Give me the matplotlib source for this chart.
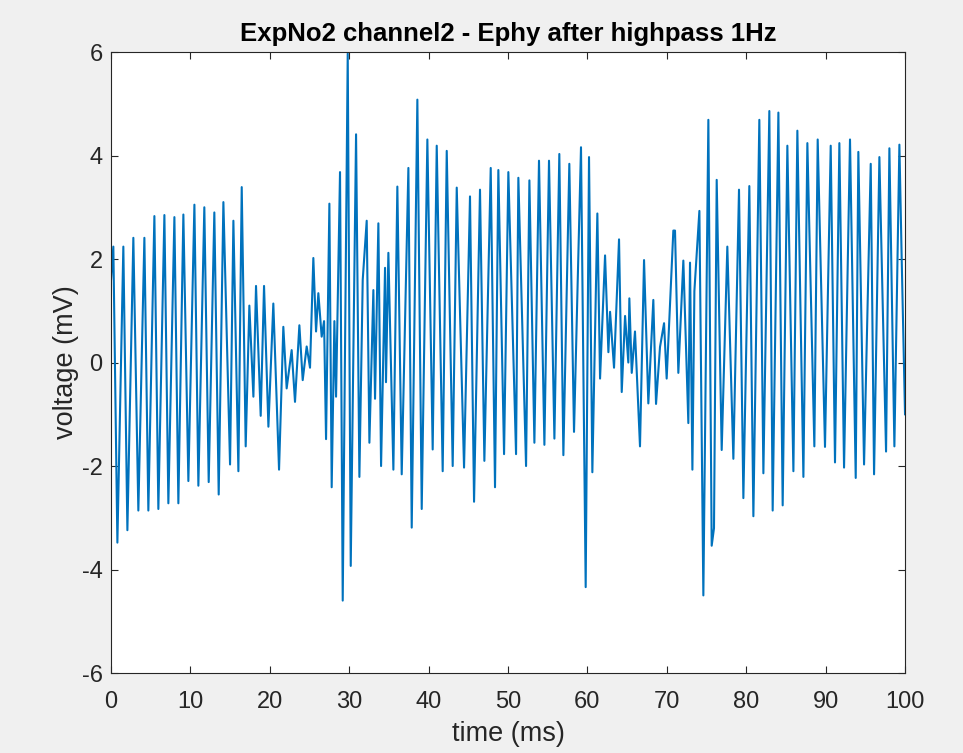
import numpy as np
import matplotlib
matplotlib.use('Agg')
from matplotlib import pyplot as plt

## Signal extremes (time in ms, voltage in mV)
t_ms = [
    0.00, 0.29, 0.80, 1.55, 2.06, 2.81, 3.44, 4.20, 4.70, 5.46,
    5.96, 6.72, 7.22, 7.98, 8.48, 9.11, 9.74, 10.50, 11.00, 11.75,
    12.30, 13.01, 13.56, 14.15, 14.99, 15.41, 16.04, 16.46, 16.96, 17.42,
    17.93, 18.26, 18.85, 19.27, 19.82, 20.44, 21.16, 21.70, 22.12, 22.75,
    23.17, 23.72, 24.14, 24.64, 25.06, 25.48, 25.82, 26.11, 26.53, 26.83,
    27.08, 27.50, 27.79, 28.13, 28.34, 28.84, 29.18, 29.81, 30.19, 30.86,
    31.28, 31.70, 32.20, 32.54, 33.04, 33.25, 33.67, 34.01, 34.51, 34.63,
    34.93, 35.56, 36.06, 36.61, 37.45, 37.87, 38.58, 39.13, 39.84, 40.51,
    41.02, 41.77, 42.28, 43.03, 43.54, 44.46, 45.21, 45.72, 46.47, 47.02,
    47.82, 48.36, 48.78, 49.50, 50.04, 51.01, 51.30, 52.27, 52.69, 53.32,
    53.90, 54.58, 55.16, 55.84, 56.46, 56.97, 57.72, 58.31, 59.19, 59.78,
    60.20, 60.62, 61.25, 61.59, 62.22, 62.64, 62.85, 63.35, 63.98, 64.32,
    64.74, 65.15, 65.28, 65.58, 65.99, 66.62, 67.13, 67.67, 68.30, 68.64,
    69.14, 69.65, 69.98, 70.82, 71.03, 71.45, 72.08, 72.71, 72.92, 73.22,
    73.47, 74.10, 74.60, 75.23, 75.65, 75.94, 76.28, 76.91, 77.62, 78.38,
    79.09, 79.64, 80.39, 80.90, 81.65, 82.16, 82.91, 83.33, 84.05, 84.59,
    85.18, 85.94, 86.44, 87.20, 87.70, 88.58, 89.00, 89.92, 90.64, 91.18,
    91.73, 92.32, 93.07, 93.79, 94.12, 94.84, 95.68, 96.10, 96.77, 97.61,
    98.03, 98.66, 99.29, 99.58, 100.00,
]
voltage_mV = [
    1.60, 2.24, -3.48, 2.24, -3.24, 2.41, -2.86, 2.41, -2.86, 2.83,
    -2.83, 2.85, -2.72, 2.81, -2.72, 2.86, -2.29, 3.05, -2.38, 3.00,
    -2.31, 2.90, -2.55, 3.10, -1.97, 2.74, -2.10, 3.39, -1.62, 1.10,
    -0.66, 1.48, -1.03, 1.48, -1.24, 1.14, -2.07, 0.69, -0.50, 0.24,
    -0.76, 0.72, -0.34, 0.31, -0.10, 2.02, 0.60, 1.34, 0.50, 0.80,
    -1.48, 3.07, -2.41, 0.80, -0.66, 3.68, -4.60, 5.97, -3.93, 4.41,
    -2.21, 1.60, 2.74, -1.55, 1.40, -0.70, 2.69, -2.00, 1.83, -0.38,
    2.12, -2.07, 3.40, -2.16, 3.76, -3.19, 5.08, -2.83, 4.31, -1.68,
    4.19, -2.10, 4.09, -2.00, 3.38, -2.03, 3.21, -2.69, 3.34, -1.90,
    3.76, -2.41, 3.72, -1.77, 3.68, -1.77, 3.57, -2.00, 3.52, -1.55,
    3.90, -1.59, 3.90, -1.47, 4.03, -1.79, 3.84, -1.34, 4.16, -4.34,
    3.97, -2.12, 2.88, -0.31, 2.07, 0.20, 0.98, -0.10, 2.38, -0.57,
    0.90, 0.00, 1.24, -0.20, 0.60, -1.62, 1.98, -0.79, 1.21, -0.80,
    0.30, 0.76, -0.31, 2.55, 2.55, -0.20, 1.97, -1.17, 1.93, -2.07,
    1.38, 2.93, -4.50, 4.69, -3.54, -3.20, 3.53, -1.69, 2.24, -1.86,
    3.34, -2.62, 3.41, -2.97, 4.69, -2.14, 4.86, -2.86, 4.83, -2.76,
    4.19, -2.10, 4.48, -2.21, 4.24, -1.62, 4.31, -1.63, 4.19, -1.93,
    4.24, -2.03, 4.31, -2.23, 4.07, -1.97, 3.84, -2.16, 3.97, -1.72,
    4.14, -1.62, 4.21, 2.00, -1.00,
]

x_ticks = [0, 10, 20, 30, 40, 50, 60, 70, 80, 90, 100]
y_ticks = [-6, -4, -2, 0, 2, 4, 6]

plt.rcParams['font.family'] = ['Liberation Sans', 'DejaVu Sans']
plt.rcParams['axes.unicode_minus'] = False

fig = plt.figure(figsize=(9.63, 7.53), dpi=100, facecolor='#f0f0f0')
ax = fig.add_axes([0.1153, 0.1062, 0.8245, 0.8247])
ax.set_facecolor('white')

ax.plot(t_ms, voltage_mV, color='#0072bd', linewidth=1.5)

ax.set_xlim(0, 100)
ax.set_ylim(-6, 6)
ax.set_xticks(x_ticks)
ax.set_yticks(y_ticks)
ax.tick_params(direction='in', top=True, right=True, length=5,
               width=0.8, colors='#262626', labelsize=17)
ax.tick_params(axis='x', pad=13)
ax.tick_params(axis='y', pad=6)
for side in ax.spines.values():
    side.set_color('#262626')
    side.set_linewidth(0.8)

ax.set_xlabel('time (ms)', fontsize=19.5, color='#262626', labelpad=6)
ax.set_ylabel('voltage (mV)', fontsize=19.5, color='#262626', labelpad=2)
ax.set_title('ExpNo2 channel2 - Ephy after highpass 1Hz', fontsize=18.5,
             fontweight='bold', color='black', pad=8)

fig.savefig('out.png', dpi=100, facecolor=fig.get_facecolor())
